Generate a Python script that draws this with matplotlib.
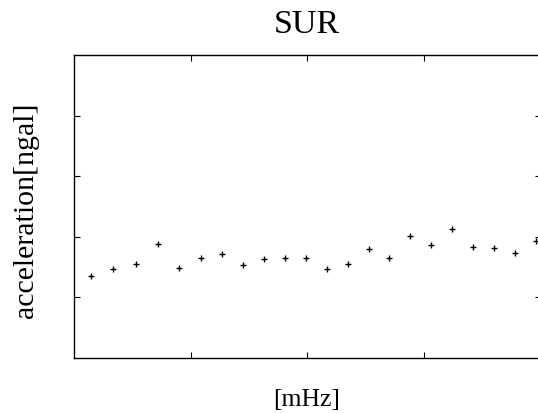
import matplotlib
matplotlib.use("Agg")
import matplotlib.pyplot as plt

# Data
freq_mhz = [0.15, 0.34, 0.53, 0.72, 0.90, 1.09, 1.27, 1.45, 1.63, 1.81, 1.99,
            2.17, 2.35, 2.53, 2.70, 2.88, 3.06, 3.24, 3.42, 3.60, 3.78, 3.96]
accel = [1.36, 1.47, 1.55, 1.88, 1.48, 1.66, 1.72, 1.54, 1.64, 1.66, 1.645,
         1.47, 1.56, 1.80, 1.65, 2.01, 1.87, 2.13, 1.84, 1.82, 1.73, 1.93]
x_ticks = [1, 2, 3]
y_ticks = [1, 2, 3, 4]

plt.rcParams['font.family'] = ['Liberation Serif', 'DejaVu Serif']

W, H = 538, 413
fig = plt.figure(figsize=(W / 100, H / 100), dpi=100)
ax = fig.add_axes([73.7 / W, 55 / H, (541 - 73.7) / W, (358 - 55.3) / H])

ax.plot(freq_mhz, accel, linestyle='none', marker='+', color='black',
        markersize=4.5, markeredgewidth=1.0)

ax.set_xlim(0, 4)
ax.set_ylim(0, 5)
ax.set_xticks(x_ticks)
ax.set_yticks(y_ticks)
ax.tick_params(direction='in', length=4, width=0.8, top=True, right=True,
               labelbottom=False, labelleft=False, color='black')
for s in ax.spines.values():
    s.set_linewidth(1.0)
    s.set_color('black')

fig.text(306.7 / W, 1 - 32.7 / H, 'SUR', fontsize=24.5, ha='center', va='baseline')
fig.text(306.7 / W, 1 - 406 / H, '[mHz]', fontsize=18.5, ha='center', va='baseline')
fig.text(26 / W, 1 - 210.5 / H, 'acceleration[ngal]', fontsize=21.5,
         rotation=90, ha='center', va='center')

fig.savefig('out.png', dpi=100)
